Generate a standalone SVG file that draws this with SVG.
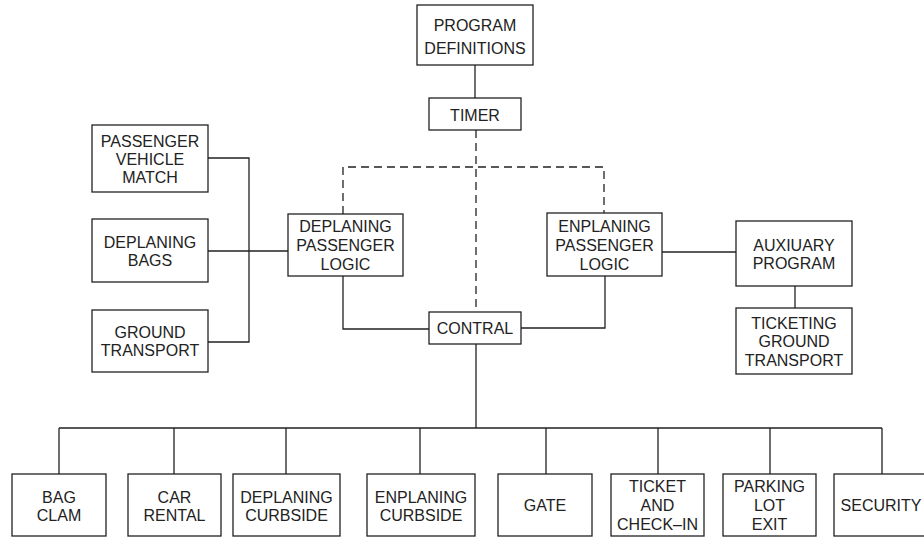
<svg xmlns="http://www.w3.org/2000/svg" width="924" height="537" viewBox="0 0 924 537">
<style>
.n{fill:#fff;stroke:#222;stroke-width:1.3}
text{font-family:"Liberation Sans",Arial,sans-serif;font-size:16px;fill:#222;text-anchor:middle}
.c{fill:none;stroke:#222;stroke-width:1.3}
.d{fill:none;stroke:#222;stroke-width:1.3;stroke-dasharray:8,5}
</style>
<rect width="924" height="537" fill="#fff"/>
<g id="connectors">
<path class="c" d="M475 65V98"/>
<path class="d" d="M476 130V312"/>
<path class="d" d="M343 214V167H604V213"/>
<path class="c" d="M208 158H249V342H208M208 251H288"/>
<path class="c" d="M343 276V329H429"/>
<path class="c" d="M521 328H605V276"/>
<path class="c" d="M662 252H736"/>
<path class="c" d="M795 286V308"/>
<path class="c" d="M476 344V428M59 428H882M59 428V474M174 428V474M286 428V474M420 428V474M546 428V474M658 428V474M770 428V474M882 428V474"/>
</g>
<g id="program_definitions"><rect class="n" x="417" y="5" width="116" height="60"/><text x="475" y="31">PROGRAM</text><text x="475" y="54">DEFINITIONS</text></g>
<g id="timer"><rect class="n" x="429" y="98" width="92" height="32"/><text x="475" y="121">TIMER</text></g>
<g id="passenger_vehicle_match"><rect class="n" x="92" y="125" width="116" height="67"/><text x="150" y="147">PASSENGER</text><text x="150" y="165">VEHICLE</text><text x="150" y="183">MATCH</text></g>
<g id="deplaning_bags"><rect class="n" x="92" y="219" width="116" height="63"/><text x="150" y="248">DEPLANING</text><text x="150" y="266">BAGS</text></g>
<g id="ground_transport"><rect class="n" x="92" y="310" width="116" height="62"/><text x="150" y="338">GROUND</text><text x="150" y="356">TRANSPORT</text></g>
<g id="deplaning_passenger_logic"><rect class="n" x="288" y="214" width="115" height="62"/><text x="345.500" y="232">DEPLANING</text><text x="345.500" y="251">PASSENGER</text><text x="345.500" y="270">LOGIC</text></g>
<g id="enplaning_passenger_logic"><rect class="n" x="547" y="213" width="115" height="63"/><text x="604.500" y="232">ENPLANING</text><text x="604.500" y="251">PASSENGER</text><text x="604.500" y="270">LOGIC</text></g>
<g id="auxiuary_program"><rect class="n" x="736" y="221" width="116" height="65"/><text x="794" y="251">AUXIUARY</text><text x="794" y="269">PROGRAM</text></g>
<g id="ticketing_ground_transport"><rect class="n" x="736" y="308" width="116" height="66"/><text x="794" y="329">TICKETING</text><text x="794" y="347">GROUND</text><text x="794" y="366">TRANSPORT</text></g>
<g id="contral"><rect class="n" x="429" y="312" width="92" height="32"/><text x="475" y="334">CONTRAL</text></g>
<g id="bag_clam"><rect class="n" x="12" y="474" width="94" height="62"/><text x="59" y="503">BAG</text><text x="59" y="521">CLAM</text></g>
<g id="car_rental"><rect class="n" x="128" y="474" width="93" height="62"/><text x="174.500" y="503">CAR</text><text x="174.500" y="521">RENTAL</text></g>
<g id="deplaning_curbside"><rect class="n" x="233" y="474" width="107" height="62"/><text x="286.500" y="503">DEPLANING</text><text x="286.500" y="521">CURBSIDE</text></g>
<g id="enplaning_curbside"><rect class="n" x="367" y="474" width="108" height="62"/><text x="421" y="503">ENPLANING</text><text x="421" y="521">CURBSIDE</text></g>
<g id="gate"><rect class="n" x="498" y="474" width="94" height="62"/><text x="545" y="511">GATE</text></g>
<g id="ticket_and_check_in"><rect class="n" x="611" y="474" width="93" height="62"/><text x="657.500" y="492">TICKET</text><text x="657.500" y="511">AND</text><text x="657.500" y="530">CHECK–IN</text></g>
<g id="parking_lot_exit"><rect class="n" x="723" y="474" width="93" height="62"/><text x="769.500" y="492">PARKING</text><text x="769.500" y="511">LOT</text><text x="769.500" y="530">EXIT</text></g>
<g id="security"><rect class="n" x="834" y="474" width="96" height="62"/><text x="881" y="511">SECURITY</text></g>
</svg>
